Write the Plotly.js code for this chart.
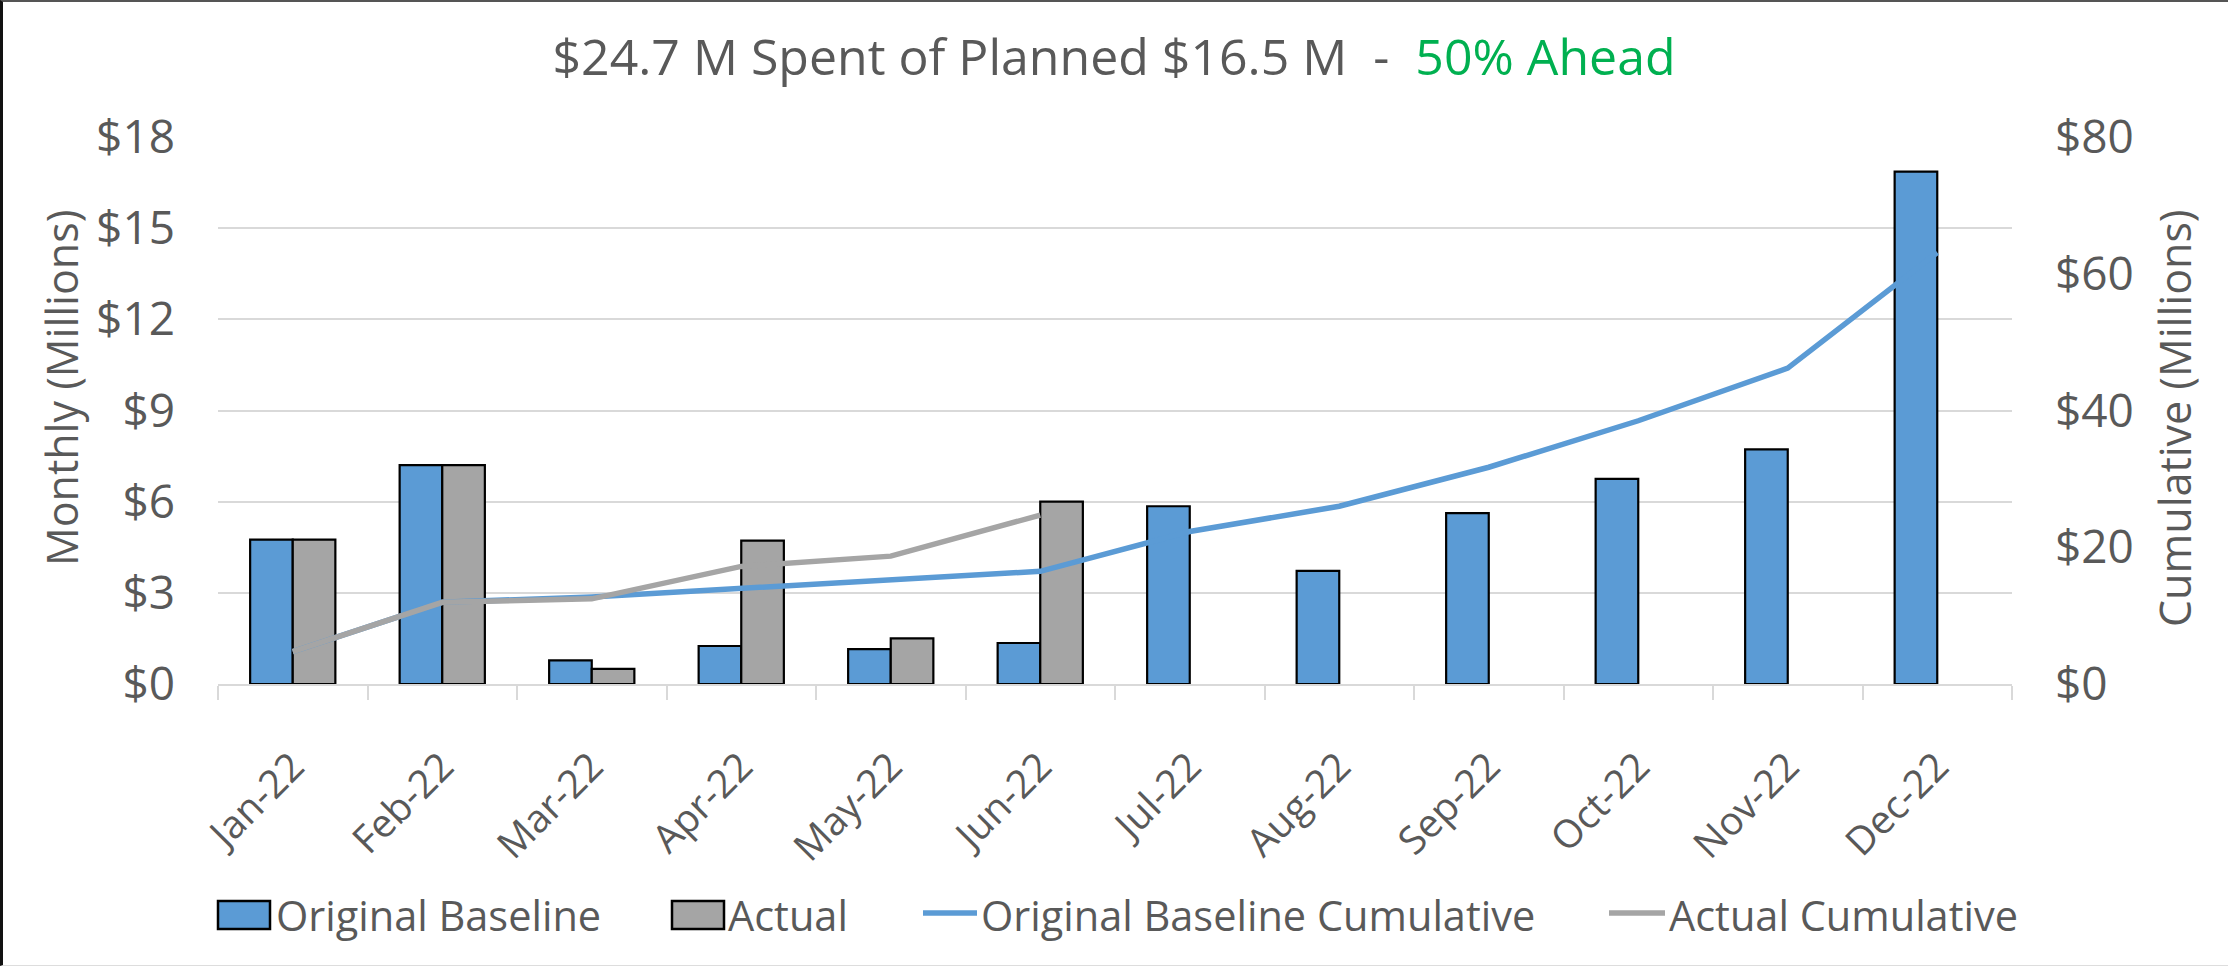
<!DOCTYPE html>
<html>
<head>
<meta charset="utf-8">
<script src="https://cdn.plot.ly/plotly-3.0.1.min.js"></script>
<style>
  html, body { margin: 0; padding: 0; background: #fff; }
  #wrap { position: relative; width: 2228px; height: 966px; }
  #chart { width: 2228px; height: 966px; }
  #frame { position: absolute; left: 0; top: 0; width: 2228px; height: 966px; box-sizing: border-box;
           border-left: 3px solid #111; border-top: 2px solid #555; border-bottom: 1px solid #ddd; pointer-events: none; }
</style>
</head>
<body>
<div id="wrap"><div id="chart"></div><div id="frame"></div></div>
<script>
const months = ["Jan-22","Feb-22","Mar-22","Apr-22","May-22","Jun-22","Jul-22","Aug-22","Sep-22","Oct-22","Nov-22","Dec-22"];
const actualMonths = ["Jan-22","Feb-22","Mar-22","Apr-22","May-22","Jun-22"];
const baselineMonthly = [4.75, 7.2, 0.78, 1.25, 1.15, 1.35, 5.85, 3.72, 5.62, 6.75, 7.72, 16.86];
const actualMonthly = [4.75, 7.2, 0.5, 4.72, 1.5, 6.0];
const baselineCumulative = [4.75, 11.95, 12.73, 13.98, 15.13, 16.48, 22.3, 26.0, 31.7, 38.5, 46.2, 63.1];
const actualCumulative = [4.75, 11.95, 12.45, 17.2, 18.7, 24.7];
const leftTicks = [0, 3, 6, 9, 12, 15, 18];
const rightTicks = [0, 20, 40, 60, 80];
const seriesNames = ["Original Baseline", "Actual", "Original Baseline Cumulative", "Actual Cumulative"];

const BLUE = "#5B9BD5", GRAY = "#A5A5A5", TXT = "#595959", GRID = "#D9D9D9";
const FONT = "Open Sans, DejaVu Sans, sans-serif";

// plot area geometry (pixels)
const W = 2228, H = 966, ML = 218, MR = 216, MT = 137, MB = 282;
const PW = W - ML - MR, PH = H - MT - MB;
const px = X => (X - ML) / PW;
const py = Y => (H - MB - Y) / PH;

const traces = [
  { type: "bar", name: seriesNames[0], x: months, y: baselineMonthly,
    marker: { color: BLUE, line: { color: "#000", width: 2.2 } } },
  { type: "bar", name: seriesNames[1], x: actualMonths, y: actualMonthly,
    marker: { color: GRAY, line: { color: "#000", width: 2.2 } } },
  { type: "scatter", mode: "lines", name: seriesNames[2], x: months, y: baselineCumulative,
    yaxis: "y2", line: { color: BLUE, width: 5.5 } },
  { type: "scatter", mode: "lines", name: seriesNames[3], x: actualMonths, y: actualCumulative,
    yaxis: "y2", line: { color: GRAY, width: 5.5 } }
];

// custom legend (Excel-style large swatches)
const legY = 915;
const shapes = [
  { type: "rect", xref: "paper", yref: "paper", x0: px(218), x1: px(270), y0: py(929), y1: py(901),
    fillcolor: BLUE, line: { color: "#000", width: 2.5 } },
  { type: "rect", xref: "paper", yref: "paper", x0: px(672), x1: px(724), y0: py(929), y1: py(901),
    fillcolor: GRAY, line: { color: "#000", width: 2.5 } },
  { type: "line", xref: "paper", yref: "paper", x0: px(923), x1: px(977), y0: py(913), y1: py(913),
    line: { color: BLUE, width: 5.5 } },
  { type: "line", xref: "paper", yref: "paper", x0: px(1609), x1: px(1665), y0: py(913), y1: py(913),
    line: { color: GRAY, width: 5.5 } }
];
const legTextX = [274, 726, 979, 1667];
const annotations = seriesNames.map((n, i) => ({
  text: n, xref: "paper", yref: "paper", x: px(legTextX[i]), y: py(legY), xanchor: "left", yanchor: "middle",
  showarrow: false, font: { family: FONT, size: 41.5, color: TXT }
}));
annotations.push(
  { text: "Monthly (Millions)", xref: "paper", yref: "paper", x: px(61), y: py(388), textangle: -90,
    xanchor: "center", yanchor: "middle", showarrow: false, font: { family: FONT, size: 43, color: TXT } },
  { text: "Cumulative (Millions)", xref: "paper", yref: "paper", x: px(2174), y: py(418), textangle: -90,
    xanchor: "center", yanchor: "middle", showarrow: false, font: { family: FONT, size: 43, color: TXT } }
);

const layout = {
  width: W, height: H,
  margin: { l: ML, r: MR, t: MT, b: MB },
  paper_bgcolor: "#fff", plot_bgcolor: "#fff",
  font: { family: FONT, color: TXT, size: 38 },
  title: { text: "$24.7 M Spent of Planned $16.5 M  -  <span style='color:#00B050'>50% Ahead</span>",
           font: { family: FONT, size: 50, color: TXT }, x: 0.5, xanchor: "center", y: 0.94, yanchor: "middle" },
  barmode: "group", bargap: 0.43, bargroupgap: 0,
  showlegend: false,
  shapes: shapes,
  annotations: annotations,
  xaxis: { type: "category", categoryarray: months, categoryorder: "array",
           tickangle: -45, ticks: "outside", tickson: "boundaries", ticklen: 14, tickcolor: GRID, tickwidth: 2,
           showline: true, linecolor: GRID, linewidth: 2, showgrid: false, zeroline: false,
           ticklabelstandoff: 42, tickfont: { family: FONT, size: 39, color: TXT } },
  yaxis: { range: [0, 18], tickvals: leftTicks, ticktext: leftTicks.map(v => "$" + v),
           showgrid: true, gridcolor: GRID, gridwidth: 2, zeroline: false, showline: false, ticks: "",
           ticklabelstandoff: 42, tickfont: { family: FONT, size: 46, color: TXT } },
  yaxis2: { range: [0, 80], tickvals: rightTicks, ticktext: rightTicks.map(v => "$" + v),
            overlaying: "y", side: "right", showgrid: false, zeroline: false, showline: false, ticks: "",
            ticklabelstandoff: 42, tickfont: { family: FONT, size: 46, color: TXT } }
};

Plotly.newPlot("chart", traces, layout, { displayModeBar: false, staticPlot: true });
</script>
</body>
</html>
